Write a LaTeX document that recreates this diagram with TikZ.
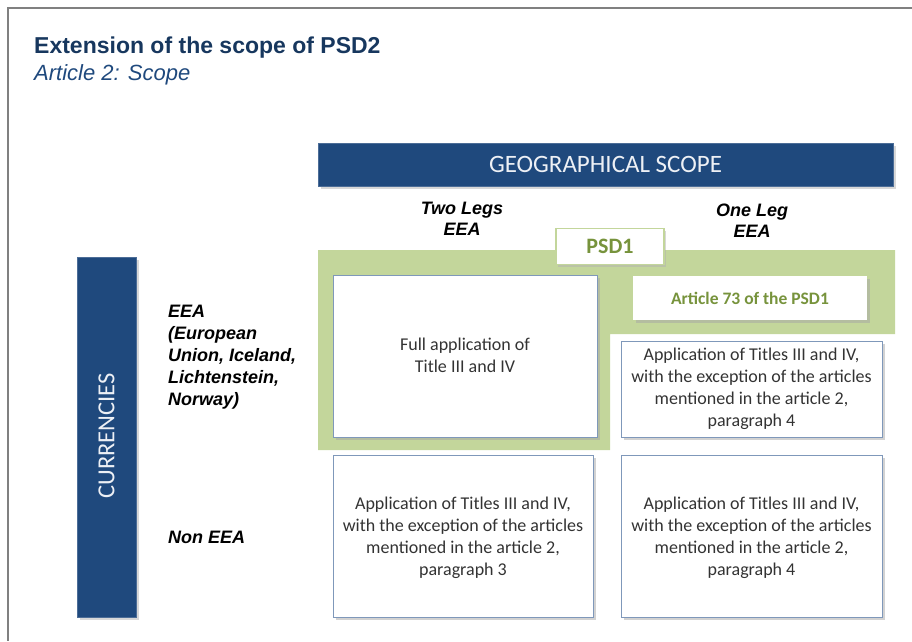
\documentclass[tikz,border=0pt]{standalone}
\usepackage{fontspec}
\setmainfont{Liberation Sans}
\newfontfamily\carlitofont{Carlito}
\usetikzlibrary{shadows}
\definecolor{navy}{HTML}{1F497D}
\definecolor{titleblue}{HTML}{17375E}
\definecolor{psdgreen}{HTML}{C3D69B}
\definecolor{psdtext}{HTML}{77933C}
\definecolor{boxline}{HTML}{7F98BA}
\definecolor{boxtext}{HTML}{333333}
\definecolor{framegray}{HTML}{808080}
\tikzset{
  bar/.style={fill=navy, draw=navy!80!white, line width=0.6pt, drop shadow={shadow xshift=3pt, shadow yshift=-3pt, fill=black!30}},
  cell/.style={fill=white, draw=boxline, line width=1pt, drop shadow={shadow xshift=2.5pt, shadow yshift=-2.5pt, fill=black!35}},
  celltext/.style={align=center, text=boxtext, font=\carlitofont\fontsize{18}{22}\selectfont},
  rowlabel/.style={align=left, anchor=north west, font=\bfseries\itshape\fontsize{18}{22}\selectfont, text=black},
  collabel/.style={align=center, font=\bfseries\itshape\fontsize{18}{21}\selectfont, text=black},
}
\begin{document}
\begin{tikzpicture}[x=1pt, y=-1pt]
\useasboundingbox (0,0) rectangle (912,641);
% frame
\draw[framegray, line width=2pt] (912,8) -- (8,8) -- (8,641);
% title
\node[anchor=base west, inner sep=0, text=titleblue, font=\bfseries\fontsize{23}{28}\selectfont] (title) at (34,53) {Extension of the scope of PSD2};
\node[anchor=base west, inner sep=0, text=navy, font=\itshape\fontsize{22}{24}\selectfont] (subtitle) at (34,80) {Article 2: Scope};
% geographical scope banner
\path[bar] (318,143) rectangle (893,186);
\node[text=white!92!navy, font=\carlitofont\fontsize{25}{28}\selectfont] (geo) at (605.5,164.5) {GEOGRAPHICAL SCOPE};
% column labels
\node[collabel] (twolegs) at (462,219) {Two Legs\\EEA};
\node[collabel] (oneleg) at (752,221) {One Leg\\EEA};
% currencies bar
\path[bar] (77,257) rectangle (136,617);
\node[rotate=90, text=white!92!navy, font=\carlitofont\fontsize{24.5}{26}\selectfont] (cur) at (106.5,436) {CURRENCIES};
% row labels
\node[rowlabel, inner sep=0] (eea) at (168,305) {EEA\\(European\\Union, Iceland,\\Lichtenstein,\\Norway)};
\node[rowlabel, inner sep=0] (noneea) at (168,531) {Non EEA};
% PSD1 green area
\fill[psdgreen] (318,250) -- (895,250) -- (895,334) -- (610,334) -- (610,450) -- (318,450) -- cycle;
% PSD1 tab
\node[draw=psdgreen, line width=1.5pt, fill=white, minimum width=108pt, minimum height=36pt, inner sep=0,
      drop shadow={shadow xshift=2pt, shadow yshift=-2pt, fill=black!30},
      text=psdtext, font=\carlitofont\bfseries\fontsize{22}{24}\selectfont] (psd1) at (610,246.5) {PSD1};
% cells
\path[cell] (333,275) rectangle (597,437);
\node[celltext] (full) at (465,355) {Full application of\\Title III and IV};
\path[fill=white, drop shadow={shadow xshift=2.5pt, shadow yshift=-2.5pt, fill=black!35}] (633,276) rectangle (867,320);
\node[text=psdtext, font=\carlitofont\bfseries\fontsize{17.5}{20}\selectfont] (art73) at (750,298) {Article 73 of the PSD1};
\path[cell] (621,341) rectangle (882,437);
\node[celltext] (oneleg1) at (751.5,389) {Application of Titles III and IV,\\with the exception of the articles\\mentioned in the article 2,\\paragraph 4};
\path[cell] (333,455) rectangle (593,617);
\node[celltext] (twolegs2) at (463,538) {Application of Titles III and IV,\\with the exception of the articles\\mentioned in the article 2,\\paragraph 3};
\path[cell] (621,455) rectangle (882,617);
\node[celltext] (oneleg2) at (751.5,538) {Application of Titles III and IV,\\with the exception of the articles\\mentioned in the article 2,\\paragraph 4};
\end{tikzpicture}
\end{document}
